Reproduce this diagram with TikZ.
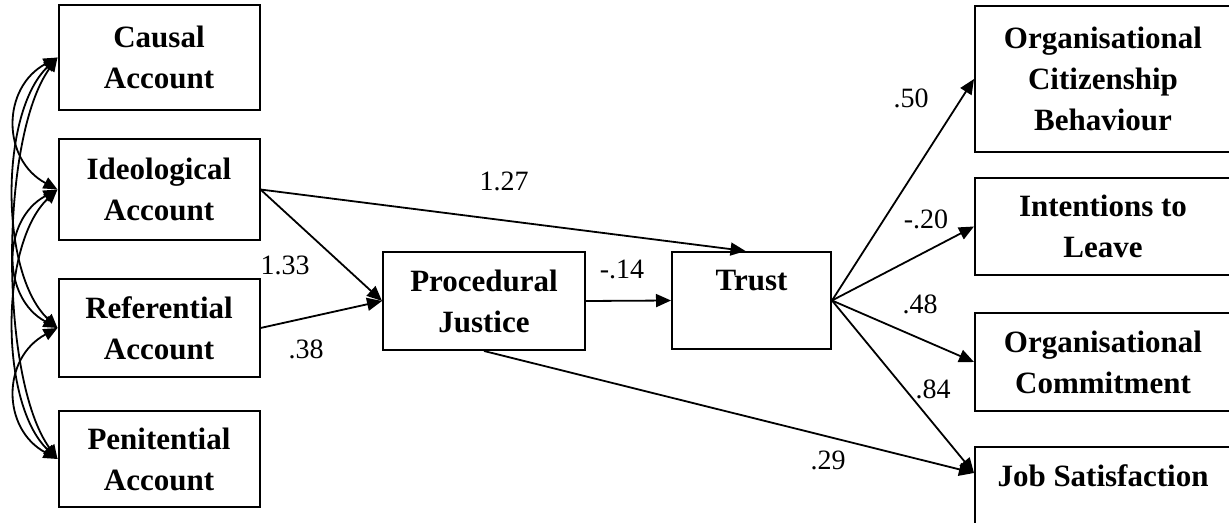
\documentclass[tikz,border=0pt]{standalone}
\usepackage{fontspec}
\setmainfont{Liberation Serif}
\usetikzlibrary{arrows.meta}

\begin{document}
\begin{tikzpicture}[x=0.5pt, y=-0.5pt,
        box/.style={draw, line width=1pt, align=center, inner sep=0pt,
            font=\fontsize{15.5}{20.5}\selectfont\bfseries},
        effect/.style={line width=0.9pt, -{Triangle[length=7.5pt,width=6.5pt]}},
        corr/.style={line width=0.9pt,
            {Triangle[length=7pt,width=6pt]}-{Triangle[length=7pt,width=6pt]}},
        coef/.style={font=\fontsize{14}{16}\selectfont, inner sep=0pt}]
        \clip (0,0) rectangle (1229,523);

        % Accounts
        \node[box, minimum width=100.5pt, minimum height=52.5pt] (causal) at (159,57.5) {Causal\\Account};
        \node[box, minimum width=100.5pt, minimum height=50.5pt] (ideo) at (159,189.5) {Ideological\\Account};
        \node[box, minimum width=100.5pt, minimum height=49pt] (ref) at (159,328) {Referential\\Account};
        \node[box, minimum width=100.5pt, minimum height=48pt] (penit) at (159,459) {Penitential\\Account};

        % Mediators
        \node[box, minimum width=101pt, minimum height=49pt] (pj) at (484,301) {Procedural\\Justice};
        \node[box, minimum width=79.5pt, minimum height=48.5pt] (trust) at (751.5,300.5) {Trust\\\mbox{}};

        % Outcomes
        \node[box, minimum width=128pt, minimum height=73pt] (ocb) at (1103,79) {Organisational\\Citizenship\\Behaviour};
        \node[box, minimum width=128pt, minimum height=48.5pt] (itl) at (1103,226.5) {Intentions to\\Leave};
        \node[box, minimum width=128pt, minimum height=49pt] (oc) at (1103,362) {Organisational\\Commitment};
        \node[box, minimum width=128pt, minimum height=49pt] (js) at (1103,496) {Job Satisfaction\\\mbox{}};
        \coordinate (jsin) at ([yshift=-13.5pt]js.north west);

        % Correlations between accounts
        \draw[corr] (causal.west) .. controls +(-56,30) and +(-56,-30) .. (ideo.west);
        \draw[corr] (causal.west) .. controls +(-58,55) and +(-58,-55) .. (ref.west);
        \draw[corr] (causal.west) .. controls +(-58,80) and +(-58,-80) .. (penit.west);
        \draw[corr] (ideo.west) .. controls +(-56,30) and +(-56,-30) .. (ref.west);
        \draw[corr] (ideo.west) .. controls +(-58,55) and +(-58,-55) .. (penit.west);
        \draw[corr] (ref.west) .. controls +(-56,30) and +(-56,-30) .. (penit.west);

        % Paths
        \draw[effect] (ideo.east) -- ([xshift=-3pt]trust.north);
        \draw[effect] (ideo.east) -- (pj.west);
        \draw[effect] (ref.east) -- (pj.west);
        \draw[effect] (pj.east) -- (trust.west);
        \draw[effect] (pj.south) -- (jsin);
        \draw[effect] (trust.east) -- (ocb.west);
        \draw[effect] (trust.east) -- (itl.west);
        \draw[effect] (trust.east) -- (oc.west);
        \draw[effect] (trust.east) -- (jsin);

        % Coefficients
        \node[coef] (c127) at (504,181) {1.27};
        \node[coef] (c133) at (285,265) {1.33};
        \node[coef] (c38) at (306,349) {.38};
        \node[coef] (c14) at (622,269) {-.14};
        \node[coef] (c50) at (911,98) {.50};
        \node[coef] (c20) at (926,219) {-.20};
        \node[coef] (c48) at (920,304) {.48};
        \node[coef] (c84) at (933,389) {.84};
        \node[coef] (c29) at (828,460) {.29};
    \end{tikzpicture}
\end{document}
